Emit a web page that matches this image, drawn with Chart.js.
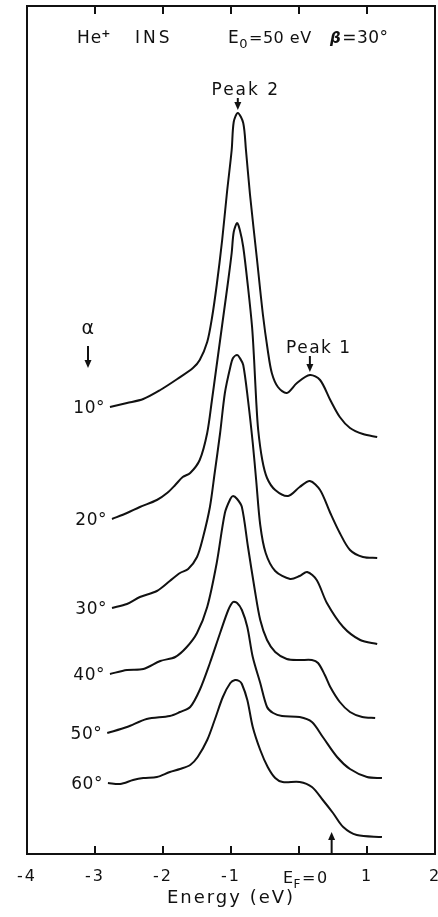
<!DOCTYPE html>
<html>
<head>
<meta charset="utf-8">
<script src="https://cdn.jsdelivr.net/npm/chart.js@4.4.1/dist/chart.umd.min.js"></script>
<style>
  html, body { margin: 0; padding: 0; background: #fff; }
  canvas { display: block; }
</style>
</head>
<body>
<canvas id="insChart" width="438" height="917"></canvas>
<script>
  // He+ INS spectra, one curve per incidence angle alpha (curves offset vertically, arb. units)
  const alphaLabels = ["10°", "20°", "30°", "40°", "50°", "60°"];

  const energy10 = [-2.78, -2.53, -2.29, -2.04, -1.79, -1.56, -1.46, -1.35, -1.28, -1.21, -1.13, -1.06, -0.99, -0.96, -0.90, -0.82, -0.78, -0.72, -0.62, -0.53, -0.46, -0.40, -0.31, -0.18, -0.03, 0.16, 0.31, 0.46, 0.60, 0.75, 0.94, 1.15];
  const counts10 = [44.7, 45.1, 45.5, 46.4, 47.5, 48.6, 49.4, 51.2, 53.6, 56.9, 61.4, 66.1, 70.4, 73.2, 74.1, 73.1, 70.4, 65.9, 59.6, 53.9, 50.4, 48.1, 46.7, 46.1, 47.1, 47.9, 47.4, 45.4, 43.7, 42.6, 42.0, 41.7];

  const energy20 = [-2.75, -2.53, -2.34, -2.09, -1.94, -1.82, -1.71, -1.60, -1.46, -1.35, -1.28, -1.22, -1.16, -1.10, -1.04, -0.99, -0.96, -0.91, -0.87, -0.82, -0.75, -0.69, -0.66, -0.63, -0.60, -0.54, -0.47, -0.35, -0.16, 0.01, 0.16, 0.31, 0.46, 0.60, 0.75, 0.94, 1.15];
  const counts20 = [33.5, 34.1, 34.7, 35.4, 36.1, 36.9, 37.7, 38.1, 39.4, 42.1, 45.4, 48.4, 51.4, 54.4, 57.4, 60.1, 62.2, 63.1, 62.4, 60.7, 56.7, 52.7, 49.4, 45.4, 42.4, 39.4, 37.6, 36.4, 35.8, 36.7, 37.3, 36.4, 34.1, 32.1, 30.4, 29.7, 29.6];

  const energy30 = [-2.75, -2.53, -2.34, -2.09, -1.90, -1.75, -1.63, -1.50, -1.41, -1.31, -1.24, -1.16, -1.09, -1.01, -0.97, -0.91, -0.87, -0.82, -0.75, -0.68, -0.63, -0.57, -0.49, -0.35, -0.13, 0.01, 0.12, 0.26, 0.41, 0.65, 0.90, 1.15];
  const counts30 = [24.6, 25.0, 25.7, 26.3, 27.3, 28.1, 28.5, 29.7, 31.7, 34.7, 38.1, 42.1, 46.1, 48.7, 49.6, 49.9, 49.6, 48.9, 45.4, 41.1, 37.4, 32.9, 30.1, 28.3, 27.5, 27.8, 28.2, 27.4, 25.1, 22.7, 21.4, 21.0];

  const energy40 = [-2.78, -2.53, -2.29, -2.04, -1.82, -1.65, -1.50, -1.35, -1.21, -1.09, -1.01, -0.97, -0.91, -0.84, -0.75, -0.65, -0.57, -0.47, -0.35, -0.18, 0.01, 0.19, 0.28, 0.38, 0.46, 0.60, 0.75, 0.93, 1.12];
  const counts40 = [18.0, 18.4, 18.5, 19.3, 19.7, 20.7, 22.1, 24.7, 29.1, 34.1, 35.5, 35.8, 35.5, 34.7, 30.7, 26.4, 23.4, 21.4, 20.2, 19.5, 19.4, 19.4, 19.1, 17.9, 16.7, 15.2, 14.2, 13.7, 13.6];

  const energy50 = [-2.82, -2.53, -2.24, -1.90, -1.75, -1.60, -1.46, -1.31, -1.16, -1.04, -0.97, -0.91, -0.84, -0.76, -0.68, -0.57, -0.47, -0.38, -0.25, 0.01, 0.19, 0.35, 0.56, 0.75, 1.00, 1.22];
  const counts50 = [12.1, 12.7, 13.5, 13.8, 14.2, 14.7, 16.4, 19.1, 22.1, 24.4, 25.2, 25.1, 24.4, 22.7, 19.7, 17.1, 14.7, 14.1, 13.8, 13.7, 13.2, 11.7, 9.7, 8.5, 7.7, 7.6];

  const energy60 = [-2.81, -2.63, -2.44, -2.29, -2.09, -1.90, -1.75, -1.60, -1.49, -1.35, -1.24, -1.12, -1.01, -0.94, -0.88, -0.84, -0.76, -0.68, -0.57, -0.46, -0.35, -0.24, 0.01, 0.19, 0.35, 0.50, 0.65, 0.85, 1.22];
  const counts60 = [7.1, 7.0, 7.4, 7.6, 7.7, 8.2, 8.5, 8.9, 9.7, 11.4, 13.4, 15.7, 17.1, 17.4, 17.3, 17.0, 15.4, 12.7, 10.4, 8.7, 7.6, 7.2, 7.2, 6.7, 5.4, 4.1, 2.7, 1.9, 1.7];

  const xTicks = [-4, -3, -2, -1, 0, 1, 2];
  const peak2Energy = -0.90; // marked on the 10° curve
  const peak1Energy = 0.16;
  const fermiArrowEnergy = 0.48;

  const ink = "#111";
  const fam = '"DejaVu Sans", sans-serif';

  const energies = [energy10, energy20, energy30, energy40, energy50, energy60];
  const counts = [counts10, counts20, counts30, counts40, counts50, counts60];

  const datasets = alphaLabels.map((lab, i) => ({
    label: lab,
    data: energies[i].map((e, j) => ({ x: e, y: counts[i][j] })),
    borderColor: ink,
    borderWidth: 2,
    pointRadius: 0,
    fill: false,
    tension: 0.3,
  }));

  function put(ctx, s, x, y, size, style) {
    ctx.font = (style || "") + " " + size + "px " + fam;
    ctx.fillText(s, x, y);
    return x + ctx.measureText(s).width;
  }

  function arrow(ctx, x, yTail, yTip) {
    const dir = yTip > yTail ? 1 : -1;
    ctx.lineWidth = 2;
    ctx.beginPath();
    ctx.moveTo(x, yTail);
    ctx.lineTo(x, yTip - dir * 5);
    ctx.stroke();
    ctx.beginPath();
    ctx.moveTo(x, yTip);
    ctx.lineTo(x - 3.5, yTip - dir * 8);
    ctx.lineTo(x + 3.5, yTip - dir * 8);
    ctx.closePath();
    ctx.fill();
  }

  const decor = {
    id: "decor",
    beforeDraw(chart) {
      chart.ctx.letterSpacing = "2px";
    },
    afterDraw(chart) {
      const { ctx, chartArea: a } = chart;
      const xs = chart.scales.x, ys = chart.scales.y;
      ctx.save();
      ctx.strokeStyle = ink;
      ctx.fillStyle = ink;
      ctx.lineWidth = 2;
      ctx.strokeRect(a.left, a.top, a.right - a.left, a.bottom - a.top);

      // inward tick marks, bottom and top
      xTicks.slice(1, -1).forEach(v => {
        const px = Math.round(xs.getPixelForValue(v));
        ctx.beginPath();
        ctx.moveTo(px, a.bottom);
        ctx.lineTo(px, a.bottom - 8);
        ctx.moveTo(px, a.top);
        ctx.lineTo(px, a.top + 8);
        ctx.stroke();
      });

      ctx.textAlign = "left";
      ctx.textBaseline = "alphabetic";

      // header
      ctx.letterSpacing = "1px";
      let cx = put(ctx, "He", 77, 43, 17);
      put(ctx, "+", cx - 1, 37, 11, "bold");
      ctx.letterSpacing = "3px";
      put(ctx, "INS", 135, 43, 17);
      ctx.letterSpacing = "0.5px";
      cx = put(ctx, "E", 228, 43, 17);
      cx = put(ctx, "0", cx, 48, 13);
      put(ctx, "=50 eV", cx + 1, 43, 16);
      cx = put(ctx, "β", 330, 43, 15, "italic bold");
      put(ctx, "=30°", cx + 1, 43, 17);

      // alpha labels at the start of each curve
      ctx.letterSpacing = "0.5px";
      ctx.textAlign = "right";
      alphaLabels.forEach((lab, i) => {
        const p = chart.getDatasetMeta(i).data[0];
        put(ctx, lab, p.x - 5, p.y + 6, 17);
      });

      ctx.textAlign = "center";
      put(ctx, "α", 88, 334, 19);
      arrow(ctx, 88, 346, 368);

      // Peak 2 and Peak 1 markers on the 10° curve
      const i2 = energy10.indexOf(peak2Energy);
      const p2x = xs.getPixelForValue(peak2Energy), p2y = ys.getPixelForValue(counts10[i2]);
      ctx.letterSpacing = "2px";
      put(ctx, "Peak 2", p2x + 8, p2y - 18, 17);
      arrow(ctx, p2x, p2y - 15, p2y - 3);

      const i1 = energy10.indexOf(peak1Energy);
      const p1x = xs.getPixelForValue(peak1Energy), p1y = ys.getPixelForValue(counts10[i1]);
      ctx.letterSpacing = "1.5px";
      put(ctx, "Peak 1", p1x + 9, p1y - 22, 17);
      arrow(ctx, p1x, p1y - 19, p1y - 3);

      // Fermi level arrow and label
      arrow(ctx, xs.getPixelForValue(fermiArrowEnergy), a.bottom, a.bottom - 22);
      ctx.textAlign = "left";
      ctx.letterSpacing = "1.5px";
      cx = put(ctx, "E", xs.getPixelForValue(0) - 16, 883, 16);
      cx = put(ctx, "F", cx - 1, 888, 12);
      put(ctx, "=0", cx, 883, 16);
      ctx.restore();
    },
  };

  new Chart(document.getElementById("insChart"), {
    type: "line",
    data: { datasets },
    options: {
      responsive: false,
      animation: false,
      layout: { padding: { left: 27, right: 3, top: 6, bottom: 0 } },
      plugins: { legend: { display: false }, tooltip: { enabled: false } },
      scales: {
        x: {
          type: "linear",
          min: -4,
          max: 2,
          grid: { display: false, drawTicks: false },
          border: { display: false },
          ticks: {
            stepSize: 1,
            padding: 13,
            color: ink,
            font: { family: fam, size: 16 },
            callback: v => (v === 0 ? "" : String(v)),
          },
          title: {
            display: true,
            text: "Energy (eV)",
            color: ink,
            font: { family: fam, size: 18 },
            padding: { top: 0, bottom: 8 },
          },
          afterFit(scale) {
            scale.height = 63;
            scale.paddingLeft = 0;
            scale.paddingRight = 0;
          },
        },
        y: { display: false, min: 0, max: 84.8 },
      },
    },
    plugins: [decor],
  });
</script>
</body>
</html>
